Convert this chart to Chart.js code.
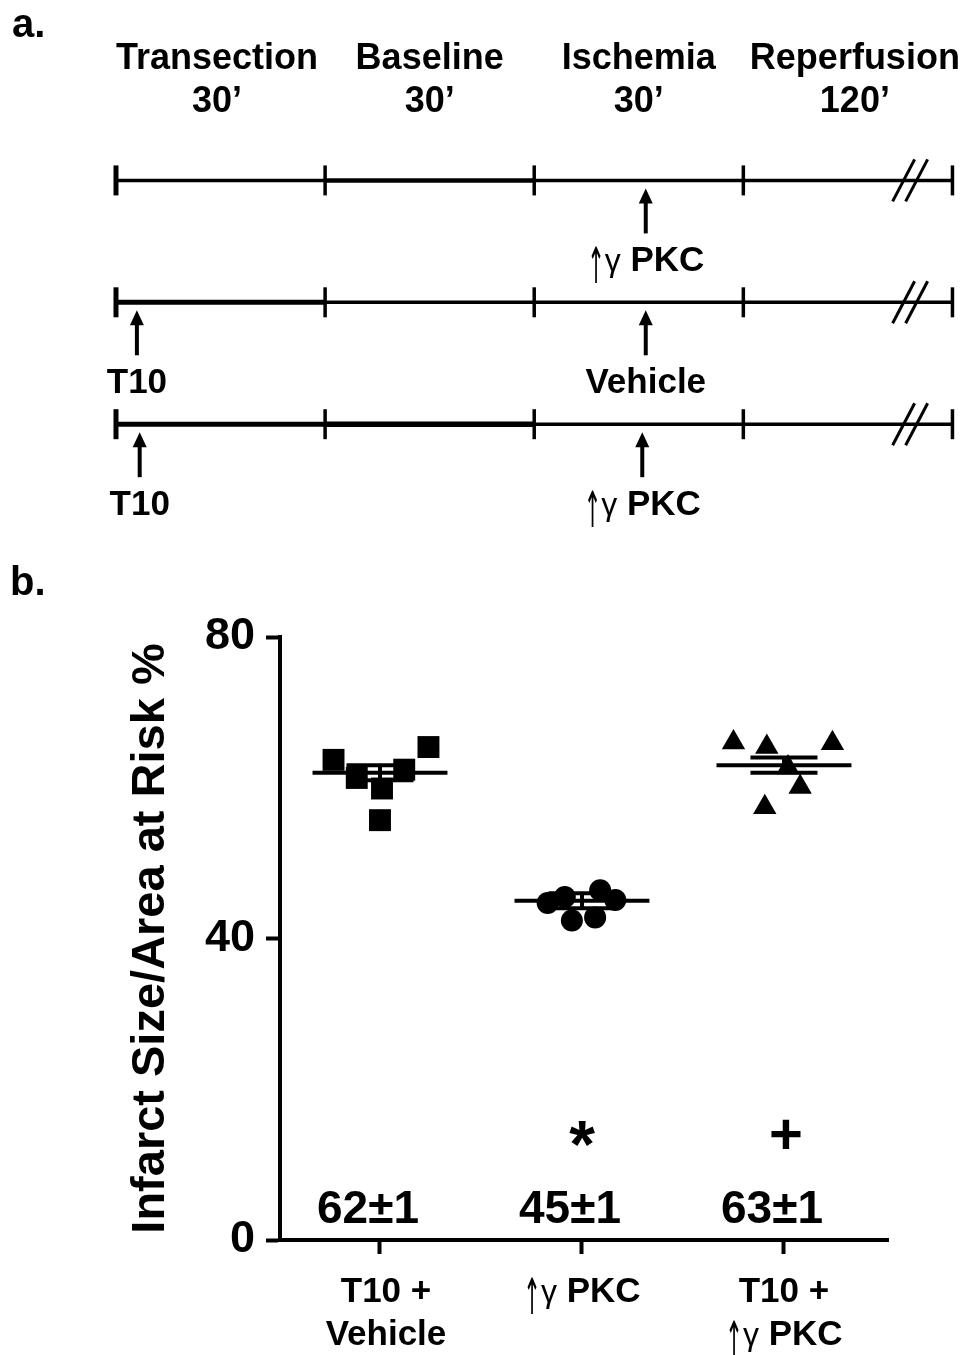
<!DOCTYPE html>
<html>
<head>
<meta charset="utf-8">
<script src="https://cdn.jsdelivr.net/npm/chart.js@4.4.1/dist/chart.umd.min.js"></script>
<style>
  html, body { margin: 0; padding: 0; background: #fff; }
  #wrap { position: relative; width: 965px; height: 1355px; }
  canvas { position: absolute; left: 0; top: 0; }
</style>
</head>
<body>
<div id="wrap">
  <canvas id="dot" width="965" height="1355"></canvas>
  <canvas id="timeline" width="965" height="540"></canvas>
</div>
<script>
// ---- panel a: protocol (minutes, reperfusion drawn with a break) ----
const phaseNames = ['Transection', 'Baseline', 'Ischemia', 'Reperfusion'];
const phaseLengths = ['30’', '30’', '30’', '120’'];
const phaseEdges = [0, 30, 60, 90, 120];
const phaseCenters = [14.5, 45, 75, 106];
const breakAt = 114;
const protocolRows = [1, 2, 3];
const markAt = [[76], [3, 76], [3.4, 75.5]];
const markLabels = [['↑γ PKC'], ['T10', 'Vehicle'], ['T10', '↑γ PKC']];

// ---- panel b: infarct size / area at risk (%) ----
const groupTicks = [1, 2, 3];
const groupLabels = [['T10 +', 'Vehicle'], ['↑γ PKC'], ['T10 +', '↑γ PKC']];
const groupMean = [62, 45, 63];
const groupSem = [1, 1, 1];
const groupSummary = ['62±1', '45±1', '63±1'];
const groupSig = ['', '*', '+'];
const vehX = [0.77, 0.885, 1.0, 1.01, 1.12, 1.24];
const vehY = [63.7, 61.3, 55.7, 59.9, 62.4, 65.4];
const pkcX = [1.83, 1.915, 1.95, 2.065, 2.09, 2.165];
const pkcY = [44.7, 45.5, 42.4, 42.8, 46.4, 45.1];
const comboX = [2.75, 2.905, 2.915, 3.02, 3.08, 3.24];
const comboY = [66.0, 57.4, 65.4, 62.7, 60.1, 65.9];

const FONT = '"Liberation Sans", Arial, sans-serif';
Chart.defaults.font.family = FONT;
Chart.defaults.color = '#000';

function pts(xs, ys) { return xs.map((x, i) => ({ x, y: ys[i] })); }

// '↑γ' is set thin and light like in the figure, the rest bold
function richText(ctx, text, cx, baseY, size) {
  const up = text.startsWith('↑γ');
  const rest = up ? text.slice(2) : text;
  const arrowScale = 0.42;
  ctx.font = `bold ${size}px ${FONT}`;
  const restW = ctx.measureText(rest).width;
  let arrowW = 0, gammaW = 0;
  if (up) {
    ctx.font = `normal 50px "DejaVu Sans"`;
    arrowW = ctx.measureText('↑').width * arrowScale;
    ctx.font = `normal ${size - 3}px ${FONT}`;
    gammaW = ctx.measureText('γ').width;
  }
  let x = cx - (arrowW + gammaW + restW) / 2;
  ctx.textAlign = 'left';
  if (up) {
    ctx.save();
    ctx.translate(x, baseY + 12);
    ctx.scale(arrowScale, 1);
    ctx.font = `normal 50px "DejaVu Sans"`;
    ctx.fillText('↑', 0, 0);
    ctx.restore();
    x += arrowW;
    ctx.font = `normal ${size - 3}px ${FONT}`;
    ctx.fillText('γ', x, baseY);
    x += gammaW;
  }
  ctx.font = `bold ${size}px ${FONT}`;
  ctx.fillText(rest, x, baseY);
}

// ---------- timeline chart ----------
const segWidths = [[3.5, 4.5, 3.5, 3.5], [5, 3.5, 3.5, 3.5], [5, 5.5, 3.5, 3.5]];
const timelineSets = [];
protocolRows.forEach((r, ri) => {
  for (let i = 0; i < phaseEdges.length - 1; i++) {
    timelineSets.push({
      data: [{ x: phaseEdges[i], y: r }, { x: phaseEdges[i + 1], y: r }],
      showLine: true, pointRadius: 0, borderColor: '#000',
      borderWidth: segWidths[ri][i], borderCapStyle: 'butt'
    });
  }
});

const timelineDeco = {
  id: 'timelineDeco',
  afterDatasetsDraw(chart) {
    const { ctx, scales: { x, y } } = chart;
    ctx.save();
    ctx.fillStyle = '#000';
    ctx.strokeStyle = '#000';
    ctx.textBaseline = 'alphabetic';

    ctx.font = `bold 40px ${FONT}`;
    ctx.textAlign = 'left';
    ctx.fillText('a.', 12, 37);

    ctx.textAlign = 'center';
    ctx.font = `bold 36px ${FONT}`;
    phaseNames.forEach((n, i) => {
      const cx = x.getPixelForValue(phaseCenters[i]);
      ctx.fillText(n, cx, 69);
      ctx.fillText(phaseLengths[i], cx, 112);
    });

    protocolRows.forEach((r, ri) => {
      const ry = y.getPixelForValue(r);
      // phase ticks
      phaseEdges.forEach((e, i) => {
        const px = x.getPixelForValue(e);
        ctx.lineWidth = i === 0 ? 5 : 3.5;
        ctx.beginPath();
        ctx.moveTo(px, ry - 15);
        ctx.lineTo(px, ry + 15);
        ctx.stroke();
      });
      // axis break
      const bx = x.getPixelForValue(breakAt);
      ctx.lineWidth = 3;
      [-7, 6].forEach(off => {
        ctx.beginPath();
        ctx.moveTo(bx + off - 11, ry + 21);
        ctx.lineTo(bx + off + 11, ry - 21);
        ctx.stroke();
      });
      // treatment arrows
      markAt[ri].forEach((at, k) => {
        const px = x.getPixelForValue(at);
        const tip = ry + 8;
        ctx.lineWidth = 4;
        ctx.beginPath();
        ctx.moveTo(px, ry + 53);
        ctx.lineTo(px, tip + 10);
        ctx.stroke();
        ctx.beginPath();
        ctx.moveTo(px, tip);
        ctx.lineTo(px - 7, tip + 15);
        ctx.lineTo(px + 7, tip + 15);
        ctx.closePath();
        ctx.fill();
        richText(ctx, markLabels[ri][k], px, ry + 91, 35);
      });
    });
    ctx.restore();
  }
};

new Chart(document.getElementById('timeline'), {
  type: 'scatter',
  data: { datasets: timelineSets },
  options: {
    responsive: false, animation: false, events: [],
    layout: { padding: 0 },
    plugins: { legend: { display: false }, tooltip: { enabled: false } },
    scales: {
      x: { type: 'linear', display: false, min: -16.64, max: 121.8 },
      y: { type: 'linear', display: false, reverse: true, min: -0.48, max: 3.95 }
    }
  },
  plugins: [timelineDeco]
});

// ---------- dot plot ----------
const summarySets = [];
groupTicks.forEach((t, i) => {
  const m = groupMean[i], s = groupSem[i];
  const line = (data) => summarySets.push({
    data, showLine: true, pointRadius: 0, borderColor: '#000', borderWidth: 4, borderCapStyle: 'butt'
  });
  line([{ x: t - 0.334, y: m }, { x: t + 0.334, y: m }]);
  line([{ x: t - 0.166, y: m + s }, { x: t + 0.166, y: m + s }]);
  line([{ x: t - 0.166, y: m - s }, { x: t + 0.166, y: m - s }]);
  line([{ x: t, y: m - s }, { x: t, y: m + s }]);
});

const dotDeco = {
  id: 'dotDeco',
  afterDatasetsDraw(chart) {
    const { ctx, scales: { x, y } } = chart;
    const y0 = y.getPixelForValue(0);
    ctx.save();
    ctx.fillStyle = '#000';
    ctx.textBaseline = 'alphabetic';

    ctx.font = `bold 40px ${FONT}`;
    ctx.textAlign = 'left';
    ctx.fillText('b.', 10, 595);

    groupTicks.forEach((t, i) => {
      const px = x.getPixelForValue(t);
      ctx.textAlign = 'center';
      ctx.font = `bold 46px ${FONT}`;
      ctx.fillText(groupSummary[i], px - 12, y0 - 17);
      if (groupSig[i] === '*') {
        ctx.font = `bold 66px ${FONT}`;
        ctx.fillText('*', px, y.getPixelForValue(14) + 33);
      } else if (groupSig[i] === '+') {
        ctx.font = `bold 58px ${FONT}`;
        ctx.fillText('+', px + 2, y.getPixelForValue(14) + 20);
      }
      groupLabels[i].forEach((lab, k) => {
        richText(ctx, lab, px + (i === 0 ? 6 : 0), y0 + 62 + k * 43, 35);
      });
    });
    ctx.restore();
  }
};

new Chart(document.getElementById('dot'), {
  type: 'scatter',
  data: {
    datasets: [
      { data: pts(vehX, vehY), pointStyle: 'rect', pointRadius: 15.5, backgroundColor: '#000', borderWidth: 0 },
      { data: pts(pkcX, pkcY), pointStyle: 'circle', pointRadius: 11, backgroundColor: '#000', borderWidth: 0 },
      { data: pts(comboX, comboY), pointStyle: 'triangle', pointRadius: 13.5, backgroundColor: '#000', borderWidth: 0 },
      ...summarySets
    ]
  },
  options: {
    responsive: false, animation: false, events: [],
    layout: { padding: { left: 119, right: 77, top: 637, bottom: 0 } },
    plugins: { legend: { display: false }, tooltip: { enabled: false } },
    scales: {
      x: {
        type: 'linear', min: 0.505, max: 3.515,
        afterBuildTicks: s => { s.ticks = groupTicks.map(v => ({ value: v })); },
        afterFit: s => { s.height = 115; },
        ticks: { display: false },
        grid: { display: true, drawOnChartArea: false, drawTicks: true, tickLength: 14, tickWidth: 4, tickColor: '#000' },
        border: { display: true, width: 4, color: '#000' }
      },
      y: {
        type: 'linear', min: 0, max: 80,
        ticks: { stepSize: 40, padding: 11, font: { size: 45, weight: 'bold' }, color: '#000' },
        afterFit: s => { s.width = 161; },
        grid: { display: true, drawOnChartArea: false, drawTicks: true, tickLength: 14, tickWidth: 4, tickColor: '#000' },
        border: { display: true, width: 4, color: '#000' },
        title: { display: true, text: 'Infarct Size/Area at Risk %', font: { size: 47, weight: 'bold' }, color: '#000', padding: { top: 4, bottom: 4 } }
      }
    }
  },
  plugins: [dotDeco]
});
</script>
</body>
</html>
